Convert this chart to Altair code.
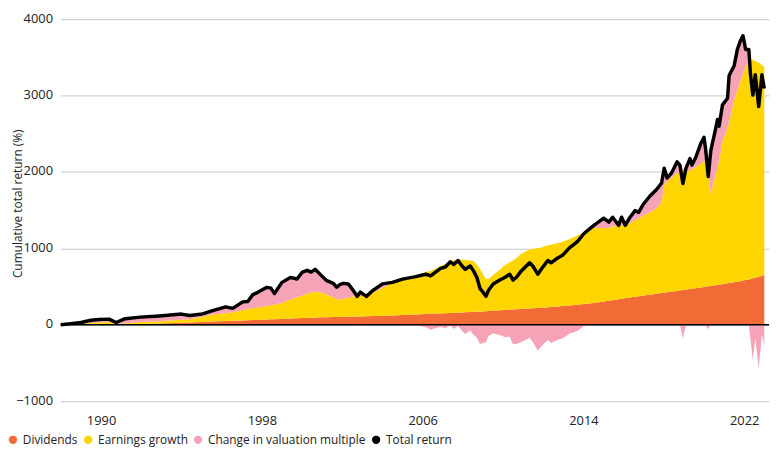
import altair as alt
import pandas as pd

# ---- data (decimal years, cumulative % contributions) ----
years = [1988.0, 1988.5, 1989.0, 1989.5, 1989.9, 1990.4, 1990.75, 1991.2, 1991.95, 1992.9,
         1994.0, 1994.4, 1995.05, 1995.55, 1996.2, 1996.55, 1997.05, 1997.3, 1997.55, 1997.8,
         1998.25, 1998.45, 1998.63, 1999.0, 1999.42, 1999.75, 2000.0, 2000.25, 2000.45, 2000.65,
         2000.98, 2001.23, 2001.56, 2001.72, 2001.9, 2002.05, 2002.3, 2002.55, 2002.74, 2002.9,
         2003.2, 2003.52, 2004.0, 2004.5, 2005.0, 2005.66, 2006.15, 2006.4, 2006.89, 2007.13,
         2007.38, 2007.55, 2007.76, 2007.96, 2008.12, 2008.37, 2008.53, 2008.7, 2008.86, 2008.94,
         2009.15, 2009.27, 2009.51, 2009.84, 2010.09, 2010.33, 2010.5, 2010.66, 2010.91, 2011.32,
         2011.48, 2011.73, 2011.9, 2012.23, 2012.39, 2012.72, 2012.96, 2013.29, 2013.7, 2014.03,
         2014.52, 2015.01, 2015.26, 2015.45, 2015.75, 2015.9, 2016.08, 2016.32, 2016.57, 2016.75,
         2016.98, 2017.31, 2017.64, 2017.89, 2018.02, 2018.16, 2018.38, 2018.66, 2018.8, 2018.95,
         2019.1, 2019.3, 2019.4, 2019.6, 2019.85, 2020.0, 2020.08, 2020.21, 2020.34, 2020.59,
         2020.67, 2020.75, 2020.92, 2021.17, 2021.25, 2021.5, 2021.66, 2021.8, 2021.94, 2022.07,
         2022.23, 2022.31, 2022.43, 2022.55, 2022.72, 2022.88, 2023.0]

total_return = [0, 15, 30, 60, 70, 74, 30, 80, 100, 116,
                140, 122, 142, 185, 235, 215, 300, 305, 395, 425,
                490, 480, 410, 555, 620, 600, 685, 713, 690, 726,
                640, 577, 542, 491, 530, 542, 535, 449, 372, 427,
                372, 449, 535, 555, 598, 630, 662, 640, 739, 756,
                824, 790, 841, 769, 726, 769, 705, 619, 471, 449,
                372, 449, 535, 586, 619, 662, 586, 619, 705, 811,
                769, 662, 726, 841, 811, 875, 909, 1003, 1088, 1195,
                1302, 1395, 1344, 1408, 1302, 1408, 1302, 1408, 1494, 1472,
                1578, 1686, 1770, 1856, 2048, 1920, 1984, 2133, 2090, 1850,
                2048, 2176, 2090, 2197, 2380, 2453, 2300, 1941, 2282, 2581,
                2687, 2600, 2879, 2965, 3263, 3391, 3604, 3710, 3783, 3604,
                3604, 3285, 3007, 3272, 2857, 3272, 3093]

dividends = [0, 1, 2, 3, 4, 5, 6, 8, 11, 16,
             26, 29, 36, 42, 49, 52, 57, 59, 62, 64,
             69, 71, 73, 77, 81, 85, 88, 90, 92, 94,
             97, 99, 101, 102, 103, 104, 106, 108, 109, 110,
             112, 114, 118, 122, 127, 134, 140, 143, 149, 152,
             155, 157, 160, 162, 164, 167, 169, 172, 174, 175,
             178, 180, 184, 189, 193, 197, 200, 203, 207, 214,
             217, 221, 224, 230, 233, 240, 245, 252, 262, 271,
             286, 305, 315, 322, 335, 341, 348, 357, 366, 373,
             382, 394, 406, 415, 420, 425, 433, 443, 448, 454,
             460, 467, 471, 479, 489, 495, 498, 503, 508, 518,
             521, 525, 532, 542, 546, 557, 564, 571, 578, 585,
             594, 600, 608, 616, 628, 640, 650]

earnings_growth = [0, 2, 8, 19, 26, 30, 2, 12, 24, 29,
                   39, 43, 69, 93, 101, 113, 138, 146, 153, 161,
                   176, 184, 192, 208, 249, 275, 292, 315, 328, 342,
                   323, 296, 259, 233, 227, 236, 249, 262, 263, 268,
                   268, 306, 362, 423, 463, 506, 550, 562, 616, 648,
                   675, 688, 694, 690, 684, 675, 667, 618, 552, 515,
                   422, 415, 466, 531, 587, 623, 640, 667, 723, 771,
                   778, 782, 786, 810, 815, 830, 843, 868, 908, 939,
                   984, 960, 955, 963, 960, 959, 952, 973, 1004, 1017,
                   1048, 1076, 1124, 1185, 1410, 1455, 1487, 1541, 1547, 1576,
                   1550, 1553, 1569, 1591, 1621, 1645, 1656, 1497, 1198, 1466,
                   1529, 1625, 1868, 2038, 2104, 2393, 2506, 2609, 2702, 2795,
                   2861, 2876, 2862, 2834, 2805, 2760, 2719]

valuation_change = [0, 12, 20, 38, 40, 39, 22, 60, 65, 71,
                    75, 50, 37, 50, 85, 50, 105, 100, 180, 200,
                    245, 225, 145, 270, 290, 240, 305, 308, 270, 290,
                    220, 182, 182, 156, 200, 202, 180, 79, 0, 49,
                    -8, 29, 55, 10, 8, -10, -28, -65, -26, -44,
                    -6, -55, -13, -83, -122, -73, -131, -171, -255, -241,
                    -228, -146, -115, -134, -161, -158, -254, -251, -225, -174,
                    -226, -341, -284, -199, -237, -195, -179, -117, -82, -15,
                    32, 130, 74, 123, 7, 108, 2, 78, 124, 82,
                    148, 216, 240, 256, 218, 40, 64, 149, 95, -180,
                    38, 156, 50, 127, 270, 313, 146, -59, 576, 597,
                    637, 450, 479, 385, 613, 441, 534, 530, 503, 224,
                    149, -191, -463, -178, -576, -128, -276]

series_names = ["Dividends", "Earnings growth", "Change in valuation multiple", "Total return"]
series_colors = ["#F26A36", "#FFD500", "#F6A3B7", "#000000"]
x_ticks = [1990, 1998, 2006, 2014, 2022]
y_ticks = [-1000, 0, 1000, 2000, 3000, 4000]

# ---- build stacked bands (negative valuation changes sit below zero) ----
rows = []
for t, d, e, v in zip(years, dividends, earnings_growth, valuation_change):
    rows.append({"t": t, "series": series_names[0], "part": "a", "lo": 0, "hi": d})
    rows.append({"t": t, "series": series_names[1], "part": "b", "lo": d, "hi": d + e})
    rows.append({"t": t, "series": series_names[2], "part": "c", "lo": d + e, "hi": d + e + max(v, 0)})
    rows.append({"t": t, "series": series_names[2], "part": "d", "lo": 0, "hi": min(v, 0)})
area_df = pd.DataFrame(rows)
line_df = pd.DataFrame({"t": years, "total": total_return})

x_scale = alt.Scale(domain=[1987.98, 2023.235], nice=False, zero=False)
y_scale = alt.Scale(domain=[-1000, 4000], nice=False)

x_axis = alt.Axis(values=x_ticks, format="d", grid=False, ticks=False, domain=False,
                  labelFontSize=13, labelPadding=14, labelColor="#222", title=None)
y_axis = alt.Axis(values=y_ticks, format="d", grid=True, gridColor="#c8c8c8", gridWidth=1,
                  ticks=False, domain=False, labelFontSize=13, labelPadding=8, labelOffset=-1,
                  labelColor="#222", title="Cumulative total return (%)", titleFontSize=12,
                  titleFontWeight="normal", titleColor="#222", titleAngle=-90,
                  titleBaseline="top", titleAlign="center", titleX=-48, titleY=186)

areas = alt.Chart(area_df).mark_area(interpolate="linear").encode(
    x=alt.X("t:Q", scale=x_scale, axis=x_axis),
    y=alt.Y("lo:Q", scale=y_scale, axis=y_axis),
    y2="hi:Q",
    color=alt.Color("series:N",
                    scale=alt.Scale(domain=series_names, range=series_colors),
                    legend=alt.Legend(orient="none", legendX=-54, legendY=419,
                                      direction="horizontal", title=None,
                                      symbolType="circle", symbolSize=70,
                                      symbolOpacity=1, symbolStrokeWidth=0,
                                      labelFontSize=12, labelColor="#222",
                                      labelOffset=4, columnPadding=4)),
    detail="part:N",
)

zero_rule = alt.Chart(pd.DataFrame({"y": [0]})).mark_rule(color="#000000", strokeWidth=1.5).encode(
    y=alt.Y("y:Q", scale=y_scale)
)

line = alt.Chart(line_df).mark_line(color="#000000", strokeWidth=3.5, strokeJoin="round").encode(
    x=alt.X("t:Q", scale=x_scale),
    y=alt.Y("total:Q", scale=y_scale),
)

chart = alt.layer(areas, zero_rule, line).properties(
    width=716, height=386,
    autosize=alt.AutoSizeParams(type="none"),
    padding={"left": 53, "top": 9, "right": 3, "bottom": 44},
).configure(font="Open Sans").configure_view(stroke=None)

chart.save("out.html", embed_options={"renderer": "svg", "actions": False})
